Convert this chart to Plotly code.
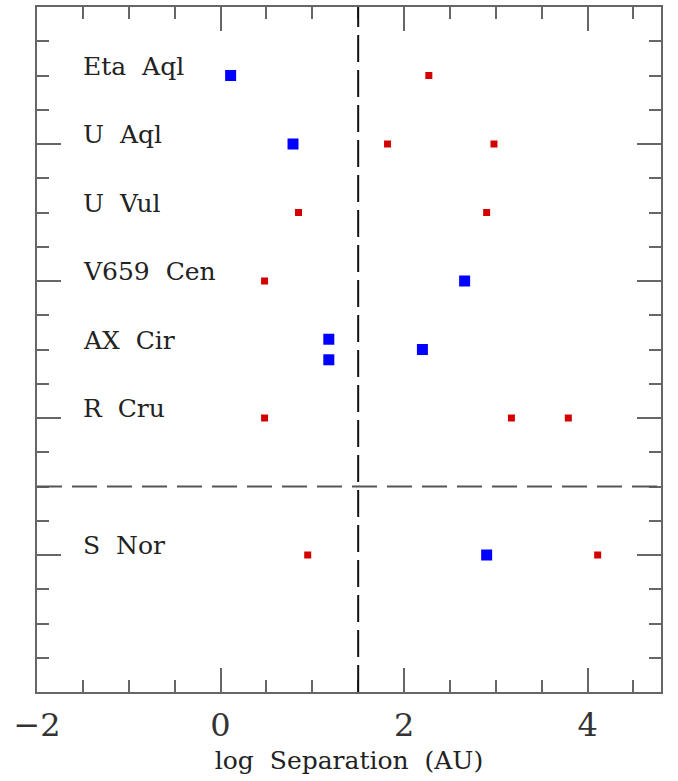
import plotly.graph_objects as go

# Cepheid systems and the row each one occupies on the vertical axis
stars = ["Eta Aql", "U Aql", "U Vul", "V659 Cen", "AX Cir", "R Cru", "S Nor"]
star_rows = [18, 16, 14, 12, 10, 8, 4]

# Resolved companions (large blue squares): log separation in AU and row position
blue_sep = [0.11, 0.79, 2.66, 1.18, 1.18, 2.20, 2.90]
blue_row = [18, 16, 12, 10.3, 9.7, 10, 4]

# Other companions (small red squares)
red_sep = [2.27, 1.82, 2.98, 0.85, 2.90, 0.48, 0.48, 3.17, 3.79, 0.95, 4.11]
red_row = [18, 16, 16, 14, 14, 12, 8, 8, 8, 4, 4]

# Reference lines: separation boundary and the divider above S Nor
sep_boundary = 1.5
group_divider = 6

x_range = [-2, 4.8]
y_range = [0, 20]
x_ticks = [-2, 0, 2, 4]
y_major = [0, 4, 8, 12, 16, 20]

FONT = "DejaVu Serif"
AXIS_COLOR = "#666666"
WIDE_SPACE = "\u00a0\u00a0"

fig = go.Figure()

fig.add_trace(go.Scatter(
    x=red_sep, y=red_row, mode="markers",
    marker=dict(symbol="square", size=7, color="#d40000", line=dict(width=0)),
    showlegend=False, hoverinfo="skip",
))
# Blue companions sit on an overlaid axis pair that carries the long major ticks
fig.add_trace(go.Scatter(
    x=blue_sep, y=blue_row, mode="markers", xaxis="x2", yaxis="y2",
    marker=dict(symbol="square", size=11, color="#0000ff", line=dict(width=0)),
    showlegend=False, hoverinfo="skip",
))

# Vertical dashed boundary
fig.add_shape(type="line", xref="x", yref="paper",
              x0=sep_boundary, x1=sep_boundary, y0=0, y1=1,
              line=dict(color="#111111", width=2, dash="27px,8px"))
# Horizontal dashed divider
fig.add_shape(type="line", xref="paper", yref="y",
              x0=0, x1=1, y0=group_divider, y1=group_divider,
              line=dict(color="#555555", width=2, dash="25px,10px"))

for name, row in zip(stars, star_rows):
    fig.add_annotation(
        x=-1.5, y=row, xref="x", yref="y", text=name.replace(" ", WIDE_SPACE),
        showarrow=False, xanchor="left", yanchor="bottom", yshift=-7, xshift=-2,
        font=dict(family=FONT, size=25, color="#222222"),
    )

axis_common = dict(
    showline=True, linecolor=AXIS_COLOR, linewidth=2, mirror="ticks",
    ticks="inside", tickcolor=AXIS_COLOR, tickwidth=2, ticklen=24,
    showgrid=False, zeroline=False,
)

fig.update_layout(
    xaxis=dict(
        range=x_range, tickmode="array", tickvals=x_ticks,
        minor=dict(dtick=0.5, tick0=0, ticklen=12, ticks="inside",
                   tickcolor=AXIS_COLOR, tickwidth=2, showgrid=False),
        tickfont=dict(family=FONT, size=32, color="#333333"),
        ticklabelstandoff=4,
        title=dict(text="log Separation (AU)".replace(" ", WIDE_SPACE), standoff=8,
                   font=dict(family=FONT, size=25, color="#222222")),
        **axis_common,
    ),
    yaxis=dict(
        range=y_range, tickmode="array", tickvals=y_major, showticklabels=False,
        minor=dict(dtick=1, tick0=0, ticklen=12, ticks="inside",
                   tickcolor=AXIS_COLOR, tickwidth=2, showgrid=False),
        **axis_common,
    ),
    # Overlaid axes: same ranges, long inward major ticks on both sides
    xaxis2=dict(
        overlaying="x", anchor="y2", side="bottom", range=x_range,
        tickmode="array", tickvals=x_ticks, showticklabels=False,
        ticks="inside", ticklen=24, tickwidth=2, tickcolor=AXIS_COLOR,
        mirror="ticks", showline=False, showgrid=False, zeroline=False,
    ),
    yaxis2=dict(
        overlaying="y", anchor="x2", side="left", range=y_range,
        tickmode="array", tickvals=y_major, showticklabels=False,
        ticks="inside", ticklen=24, tickwidth=2, tickcolor=AXIS_COLOR,
        mirror="ticks", showline=False, showgrid=False, zeroline=False,
    ),
    width=678, height=781,
    margin=dict(l=37, r=17, t=5, b=89),
    paper_bgcolor="white", plot_bgcolor="white",
)

fig.write_html("out.html")
